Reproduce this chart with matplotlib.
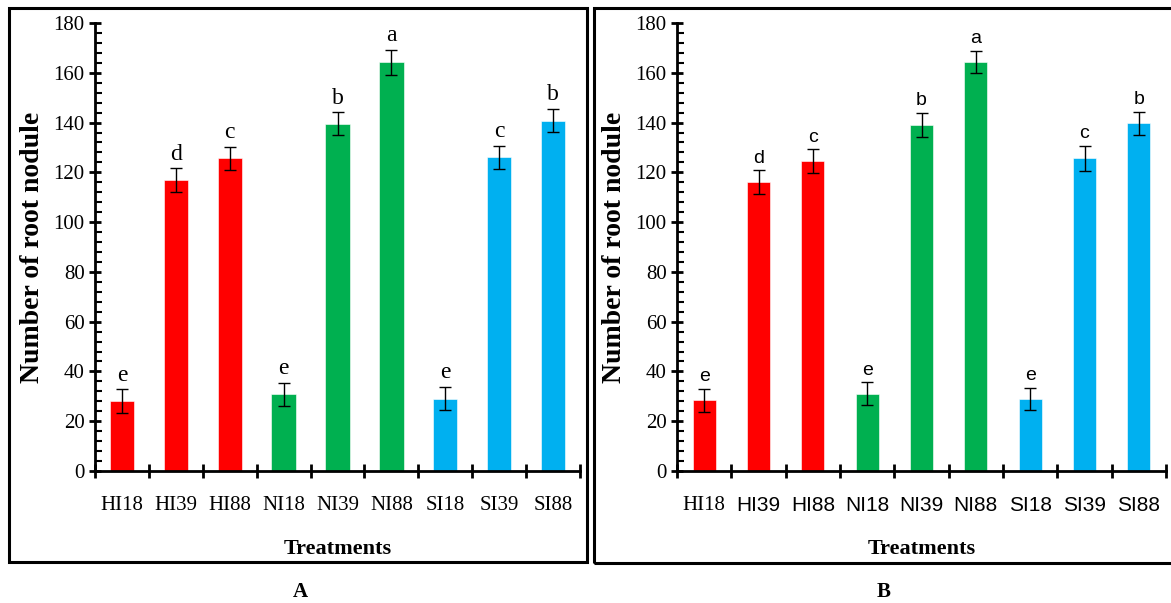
"""Root nodule counts per treatment, panels A and B, with significance letters."""

import matplotlib
matplotlib.use("Agg")
import matplotlib.pyplot as plt
from matplotlib.patches import Rectangle
from matplotlib.ticker import MultipleLocator, FixedLocator
import numpy as np

treatments = ["HI18", "HI39", "HI88", "NI18", "NI39", "NI88", "SI18", "SI39", "SI88"]
group_colors = ["#FF0000"] * 3 + ["#00B050"] * 3 + ["#00B0F0"] * 3

mean_a = [28.0, 116.8, 125.6, 30.8, 139.6, 164.3, 29.1, 126.1, 140.8]
err_a = [4.8, 4.8, 4.6, 4.6, 4.5, 5.0, 4.6, 4.6, 4.6]
letters_a = ["e", "d", "c", "e", "b", "a", "e", "c", "b"]

mean_b = [28.4, 116.0, 124.4, 31.0, 139.1, 164.5, 28.9, 125.6, 139.7]
err_b = [4.5, 4.8, 4.8, 4.6, 4.9, 4.4, 4.5, 4.9, 4.7]
letters_b = ["e", "d", "c", "e", "b", "a", "e", "c", "b"]

SERIF = "Liberation Serif"
SANS = "Liberation Sans"

W, H = 1171, 603


def px_axes(fig, left, top, right, bottom):
    return fig.add_axes([left / W, 1 - bottom / H, (right - left) / W, (bottom - top) / H])


def draw_panel(ax, means, errs, letters, letter_font, tick_fonts, bar_width):
    x = np.arange(len(treatments))
    ax.bar(x, means, width=bar_width, color=group_colors, edgecolor="white",
           linewidth=0.4, zorder=2)
    ax.errorbar(x, means, yerr=errs, fmt="none", ecolor="black", elinewidth=1.0,
                capsize=4, capthick=1.0, zorder=3)
    for xi, m, e, lab in zip(x, means, errs, letters):
        ax.text(xi, m + e + 1.5, lab, ha="center", va="bottom",
                fontsize=17 if letter_font == SERIF else 14, family=letter_font)

    ax.set_xlim(-0.5, len(treatments) - 0.5)
    ax.set_ylim(0, 180)
    for side in ("top", "right"):
        ax.spines[side].set_visible(False)
    for side in ("left", "bottom"):
        ax.spines[side].set_linewidth(2.0)

    ax.yaxis.set_major_locator(MultipleLocator(20))
    ax.yaxis.set_minor_locator(MultipleLocator(4))
    ax.tick_params(axis="y", which="major", direction="inout", length=9, width=2,
                   labelsize=15, pad=3)
    ax.tick_params(axis="y", which="minor", direction="in", length=5, width=1.5)
    for lab in ax.get_yticklabels():
        lab.set_fontfamily(SERIF)

    ax.xaxis.set_major_locator(FixedLocator(np.arange(len(treatments) + 1) - 0.5))
    ax.xaxis.set_minor_locator(FixedLocator(x))
    ax.set_xticklabels([""] * (len(treatments) + 1))
    ax.set_xticklabels(treatments, minor=True)
    ax.tick_params(axis="x", which="major", direction="inout", length=10, width=2)
    ax.tick_params(axis="x", which="minor", length=0, labelsize=15, pad=18)
    for lab, fam in zip(ax.get_xticklabels(minor=True), tick_fonts):
        lab.set_fontfamily(fam)

    ax.set_xlabel("Treatments", family=SERIF, fontweight="bold", fontsize=16, labelpad=17)
    ax.set_ylabel("Number of root nodule", family=SERIF, fontweight="bold", fontsize=20,
                  labelpad=6)


fig = plt.figure(figsize=(W / 100, H / 100), dpi=100)

# panel borders
fig.patches.append(Rectangle((8.5 / W, 1 - 562 / H), (587 - 8.5) / W, (562 - 8) / H,
                             transform=fig.transFigure, fill=False, edgecolor="black",
                             linewidth=2.2))
fig.patches.append(Rectangle((594 / W, 1 - 563 / H), (1180 - 594) / W, (563 - 8) / H,
                             transform=fig.transFigure, fill=False, edgecolor="black",
                             linewidth=2.2, clip_on=False))

ax_a = px_axes(fig, 95, 23, 580, 471)
draw_panel(ax_a, mean_a, err_a, letters_a, SERIF, [SERIF] * 9, 0.45)

ax_b = px_axes(fig, 677, 23, 1166, 471)
draw_panel(ax_b, mean_b, err_b, letters_b, SANS, [SERIF] + [SANS] * 8, 0.42)

fig.text(300 / W, 1 - 592 / H, "A", ha="center", va="center", family=SERIF,
         fontweight="bold", fontsize=15)
fig.text(884 / W, 1 - 592 / H, "B", ha="center", va="center", family=SERIF,
         fontweight="bold", fontsize=15)

fig.savefig("out.png", dpi=100)
plt.close(fig)
